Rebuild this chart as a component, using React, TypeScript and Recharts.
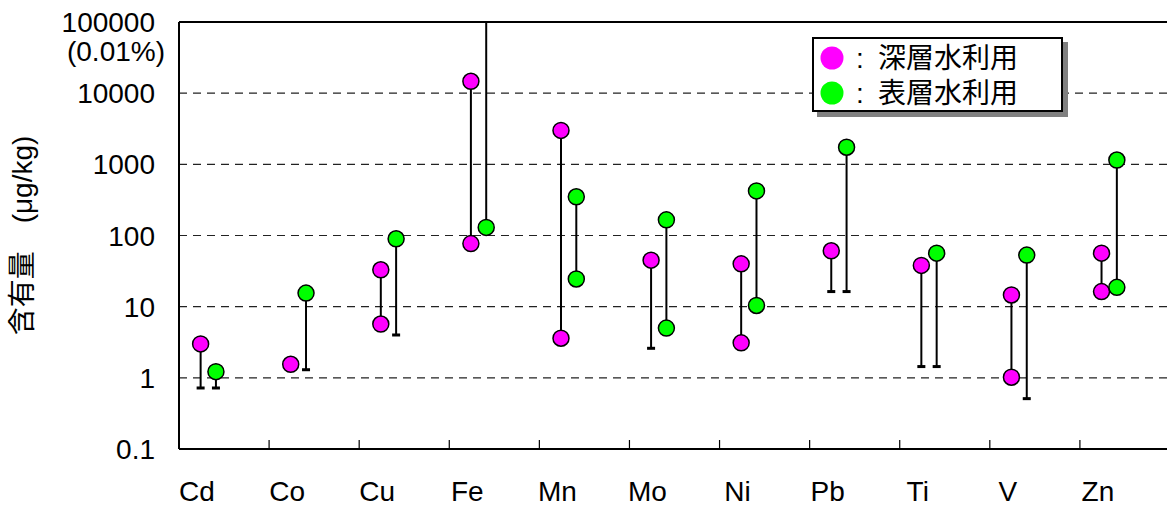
import {
  CartesianGrid,
  ComposedChart,
  Legend,
  ReferenceLine,
  Scatter,
  XAxis,
  YAxis,
} from "recharts";

const categories = ["Cd", "Co", "Cu", "Fe", "Mn", "Mo", "Ni", "Pb", "Ti", "V", "Zn"];

// measured contents (µg/kg); limits = lower end drawn as a short bar
const deepValues = [[3.0], [1.55], [33, 5.7], [14700, 77], [3000, 3.6], [45], [40, 3.1], [61], [38], [14.6, 1.02], [56.5, 16.3]];
const deepLimits = [0.72, 1.3, null, null, null, 2.6, null, 16.3, 1.44, null, null];
const deepUpper = [null, null, null, null, null, null, null, null, null, null, null];

const surfaceValues = [[1.22], [15.5], [90], [130], [350, 24.5], [166, 5.0], [423, 10.4], [1740], [56.5], [53], [1150, 18.7]];
const surfaceLimits = [0.72, 1.3, 4.0, null, null, null, null, 16.3, 1.44, 0.51, null];
const surfaceUpper = [null, null, null, 114000, null, null, null, null, null, null, null];

const yTicks = [0.1, 1, 10, 100, 1000, 10000, 100000];
const xTicks = [0, 1, 2, 3, 4, 5, 6, 7, 8, 9, 10];

const FONT = '"Liberation Sans", Arial, "Noto Sans CJK JP", sans-serif';

const series = [
  { name: "深層水利用", color: "#FF00FF", offset: 0.24, values: deepValues, limits: deepLimits, upper: deepUpper },
  { name: "表層水利用", color: "#00FF00", offset: 0.41, values: surfaceValues, limits: surfaceLimits, upper: surfaceUpper },
];

function buildSeries(s: (typeof series)[number]) {
  const points = s.values.flatMap((vs, i) => vs.map((v) => ({ x: i + s.offset, y: v })));
  const caps = s.limits
    .map((l, i) => (l == null ? null : { x: i + s.offset, y: l }))
    .filter((p): p is { x: number; y: number } => p != null);
  const segments = s.values.map((vs, i) => {
    const all = [...vs, s.limits[i], s.upper[i]].filter((v): v is number => v != null);
    const x = i + s.offset;
    return [
      { x, y: Math.min(...all) },
      { x, y: Math.max(...all) },
    ];
  });
  return { points, caps, segments };
}

const built = series.map((s) => ({ ...s, ...buildSeries(s) }));

function YTick({ x, y, payload }: any) {
  const v = payload.value;
  if (v === 100000) {
    return (
      <g>
        <text x={x - 24} y={y} dy="0.36em" textAnchor="end" fontSize={28} fontFamily={FONT} fill="#000">
          100000
        </text>
        <text x={x - 14} y={y + 29} dy="0.36em" textAnchor="end" fontSize={28} fontFamily={FONT} fill="#000">
          (0.01%)
        </text>
      </g>
    );
  }
  return (
    <text x={x - 24} y={y} dy="0.36em" textAnchor="end" fontSize={28} fontFamily={FONT} fill="#000">
      {String(v)}
    </text>
  );
}

function XTick({ x, y, payload }: any) {
  const k = payload.value;
  return (
    <g>
      {k > 0 && <line x1={x} x2={x} y1={y - 9} y2={y} stroke="#000" strokeWidth={1.2} />}
      <text x={x + 18} y={y + 52} textAnchor="middle" fontSize={28} fontFamily={FONT} fill="#000">
        {categories[k]}
      </text>
    </g>
  );
}

function LegendBox() {
  return (
    <div
      style={{
        width: 251,
        height: 75,
        boxSizing: "border-box",
        border: "2px solid #000",
        background: "#fff",
        boxShadow: "5px 5px 0 #808080",
      }}
    >
      <svg width={247} height={71} style={{ display: "block" }}>
        {series.map((s, i) => (
          <g key={s.name} transform={`translate(0, ${19 + i * 35})`}>
            <circle cx={18} cy={0} r={11.5} fill={s.color} />
            <text x={42} y={0} dominantBaseline="central" fontSize={28} fontFamily={FONT} fill="#000">
              :
            </text>
            <text x={64} y={0} dominantBaseline="central" fontSize={28} fontFamily={FONT} fill="#000">
              {s.name}
            </text>
          </g>
        ))}
      </svg>
    </div>
  );
}

const circleShape = (color: string) => (props: any) => (
  <circle cx={props.cx} cy={props.cy} r={8} fill={color} stroke="#000" strokeWidth={1.5} />
);

const capShape = (props: any) => (
  <rect x={props.cx - 4} y={props.cy - 1.5} width={8} height={3} fill="#000" />
);

const noShape = () => <g />;

export default function App() {
  return (
    <div style={{ width: 1167, height: 506, overflow: "hidden", background: "#fff", position: "relative" }}>
      <style>{"body{margin:0}"}</style>
      <ComposedChart width={1176} height={506} margin={{ top: 22, right: 6, bottom: 0, left: 0 }}>
        <CartesianGrid vertical={false} stroke="#222" strokeWidth={1.1} strokeDasharray="8 6" />
        <XAxis
          dataKey="x"
          type="number"
          domain={[0, 11]}
          ticks={xTicks}
          allowDataOverflow
          height={57}
          tickSize={0}
          tickMargin={0}
          tickLine={false}
          axisLine={{ stroke: "#000", strokeWidth: 2 }}
          tick={<XTick />}
          interval={0}
        />
        <YAxis
          dataKey="y"
          type="number"
          scale="log"
          domain={[0.1, 100000]}
          ticks={yTicks}
          allowDataOverflow
          width={179}
          tickSize={0}
          tickMargin={0}
          tickLine={false}
          axisLine={{ stroke: "#000", strokeWidth: 2 }}
          tick={<YTick />}
          interval={0}
          label={{
            value: "含有量　(μg/kg)",
            angle: -90,
            position: "insideLeft",
            dx: 17,
            fontSize: 28,
            fontFamily: FONT,
            fill: "#000",
            style: { textAnchor: "middle" },
          }}
        />
        <ReferenceLine y={100000} stroke="#000" strokeWidth={2} />
        {built.map((s) =>
          s.segments.map((seg, i) => (
            <Scatter
              key={`${s.name}-seg-${i}`}
              data={seg}
              line={{ stroke: "#000", strokeWidth: 2 }}
              shape={noShape}
              legendType="none"
              isAnimationActive={false}
            />
          ))
        )}
        {built.map((s) => (
          <Scatter key={`${s.name}-cap`} data={s.caps} shape={capShape} legendType="none" isAnimationActive={false} />
        ))}
        {built.map((s) => (
          <Scatter
            key={`${s.name}-pts`}
            name={s.name}
            data={s.points}
            shape={circleShape(s.color)}
            isAnimationActive={false}
          />
        ))}
        <Legend
          layout="vertical"
          align="center"
          verticalAlign="middle"
          content={() => <LegendBox />}
          wrapperStyle={{ left: 812, top: 37, width: 251, height: 75 }}
        />
      </ComposedChart>
    </div>
  );
}
